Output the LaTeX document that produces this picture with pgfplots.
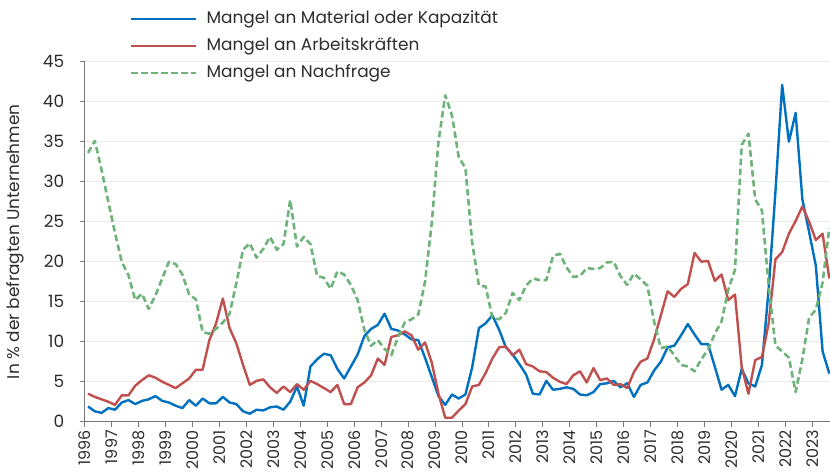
\documentclass[border=0pt]{standalone}
\usepackage{fontspec}
\setmainfont{Poppins}
\usepackage{pgfplots}
\pgfplotsset{compat=1.18}
\usepackage{pgfplotstable}
\definecolor{cblue}{RGB}{0,112,192}
\definecolor{cred}{RGB}{192,80,77}
\definecolor{cgreen}{RGB}{110,180,122}
\definecolor{ctext}{RGB}{45,45,45}
\definecolor{cgrid}{RGB}{236,236,236}
\definecolor{caxis}{RGB}{120,120,120}

\pgfplotstableread{
t mat arb nach
1996.125 1.9 3.5 33.6
1996.375 1.3 3.1 35.1
1996.625 1.1 2.8 31.5
1996.875 1.7 2.5 27.5
1997.125 1.5 2.1 23.6
1997.375 2.4 3.3 20.0
1997.625 2.7 3.3 18.3
1997.875 2.2 4.5 15.2
1998.125 2.6 5.2 16.0
1998.375 2.8 5.8 14.1
1998.625 3.2 5.5 15.8
1998.875 2.6 5.0 17.9
1999.125 2.4 4.6 20.0
1999.375 2.0 4.2 19.7
1999.625 1.7 4.8 18.4
1999.875 2.7 5.4 15.9
2000.125 2.0 6.5 15.3
2000.375 2.9 6.5 11.2
2000.625 2.3 10.2 11.0
2000.875 2.3 12.3 11.6
2001.125 3.1 15.4 12.4
2001.375 2.4 11.7 13.5
2001.625 2.2 9.8 17.3
2001.875 1.3 7.1 21.5
2002.125 1.0 4.6 22.3
2002.375 1.5 5.1 20.5
2002.625 1.4 5.3 21.6
2002.875 1.8 4.3 23.1
2003.125 1.9 3.6 21.5
2003.375 1.5 4.4 22.2
2003.625 2.5 3.7 27.7
2003.875 4.4 4.7 21.9
2004.125 2.0 4.0 23.1
2004.375 6.9 5.1 22.2
2004.625 7.8 4.7 18.2
2004.875 8.5 4.2 18.0
2005.125 8.3 3.7 16.6
2005.375 6.6 4.6 18.8
2005.625 5.4 2.2 18.4
2005.875 6.9 2.2 17.1
2006.125 8.4 4.3 15.2
2006.375 10.7 4.9 11.5
2006.625 11.6 5.8 9.5
2006.875 12.1 7.9 10.2
2007.125 13.5 7.1 9.1
2007.375 11.6 10.6 8.3
2007.625 11.4 10.8 10.6
2007.875 10.9 11.3 12.4
2008.125 10.3 10.8 12.8
2008.375 10.2 9.0 13.4
2008.625 8.0 9.9 17.5
2008.875 5.6 7.4 24.8
2009.125 3.2 3.5 35.0
2009.375 2.1 0.5 40.8
2009.625 3.4 0.5 38.3
2009.875 2.9 1.4 33.1
2010.125 3.4 2.2 31.7
2010.375 6.8 4.4 22.4
2010.625 11.7 4.6 17.0
2010.875 12.3 6.1 16.9
2011.125 13.3 7.9 13.0
2011.375 11.5 9.3 12.8
2011.625 9.3 9.4 13.6
2011.875 8.4 8.3 16.1
2012.125 7.2 9.0 15.2
2012.375 5.9 7.2 17.0
2012.625 3.5 6.9 17.9
2012.875 3.4 6.3 17.7
2013.125 5.1 6.2 17.7
2013.375 4.0 5.5 20.7
2013.625 4.1 5.0 21.0
2013.875 4.3 4.7 19.3
2014.125 4.1 5.8 18.1
2014.375 3.4 6.3 18.2
2014.625 3.3 4.9 19.2
2014.875 3.7 6.7 19.1
2015.125 4.7 5.2 19.2
2015.375 4.8 5.4 19.9
2015.625 5.1 4.6 20.0
2015.875 4.3 4.7 18.2
2016.125 4.8 4.2 17.1
2016.375 3.1 6.2 18.5
2016.625 4.6 7.5 17.8
2016.875 4.9 7.9 17.0
2017.125 6.4 10.3 12.5
2017.375 7.5 13.3 9.2
2017.625 9.3 16.3 9.4
2017.875 9.5 15.6 8.3
2018.125 10.8 16.6 7.1
2018.375 12.2 17.2 6.9
2018.625 10.9 21.1 6.3
2018.875 9.7 20.0 7.8
2019.125 9.7 20.1 9.0
2019.375 6.9 17.6 11.0
2019.625 4.0 18.4 12.5
2019.875 4.6 15.2 16.5
2020.125 3.2 15.9 19.0
2020.375 6.6 6.8 34.6
2020.625 4.8 3.5 36.0
2020.875 4.4 7.7 27.8
2021.125 7.1 8.1 26.4
2021.375 16.6 12.3 17.0
2021.625 28.7 20.3 9.5
2021.875 42.1 21.2 8.8
2022.125 35.0 23.5 8.0
2022.375 38.6 25.1 3.7
2022.625 27.8 26.9 7.8
2022.875 23.7 25.0 13.0
2023.125 19.5 22.7 14.0
2023.375 8.8 23.5 17.4
2023.625 6.0 17.9 24.2
}\data

\begin{document}
\begin{tikzpicture}
\useasboundingbox (-84.7bp,-50.3bp) rectangle (745.3bp,421.7bp);
\begin{axis}[
  at={(0,0)}, anchor=south west,
  scale only axis, width=745.3bp, height=360bp,
  xmin=1996, xmax=2023.65, ymin=0, ymax=45,
  xtick={1996,...,2023},
  ytick={0,5,...,45},
  /pgf/number format/.cd, 1000 sep={}, assume math mode=true, /pgfplots/.cd,
  axis x line*=bottom, axis y line*=left,
  axis line style={caxis, line width=1.2bp, -},
  tick align=outside,
  major tick length=5bp,
  tick style={caxis, line width=1bp},
  ymajorgrids, grid style={cgrid, line width=1.5bp},
  xticklabel style={rotate=90, anchor=east, font=\fontsize{16}{16}\selectfont, text=ctext},
  yticklabel style={font=\fontsize{17}{17}\selectfont, text=ctext, xshift=-12bp},
  ylabel={In \% der befragten Unternehmen},
  every axis y label/.style={at={(axis description cs:0,0.5)}, xshift=-69.7bp, rotate=90, anchor=center, font=\fontsize{17}{17}\selectfont, text=ctext},
  legend style={draw=none, fill=none, inner sep=0pt, outer sep=0pt,
    at={(0.0608,1)}, anchor=north west, yshift=51bp,
    row sep=10bp, font=\fontsize{17}{17}\selectfont, text=ctext,
    nodes={inner sep=0pt, text height=13bp, text depth=4bp}},
  legend cell align=left,
  legend image code/.code={\draw[#1] (0bp,0bp) -- (65bp,0bp);},
  every axis plot/.append style={line join=round},
]
\addplot[cblue, line width=2.4bp] table[x=t, y=mat] {\data};
\addlegendentry{\hspace*{9bp}Mangel an Material oder Kapazität}
\addplot[cred, line width=2.4bp] table[x=t, y=arb] {\data};
\addlegendentry{\hspace*{9bp}Mangel an Arbeitskräften}
\addplot[cgreen, line width=2.6bp, dash pattern=on 6.5bp off 3.5bp] table[x=t, y=nach] {\data};
\addlegendentry{\hspace*{9bp}Mangel an Nachfrage}
\end{axis}
\end{tikzpicture}
\end{document}
